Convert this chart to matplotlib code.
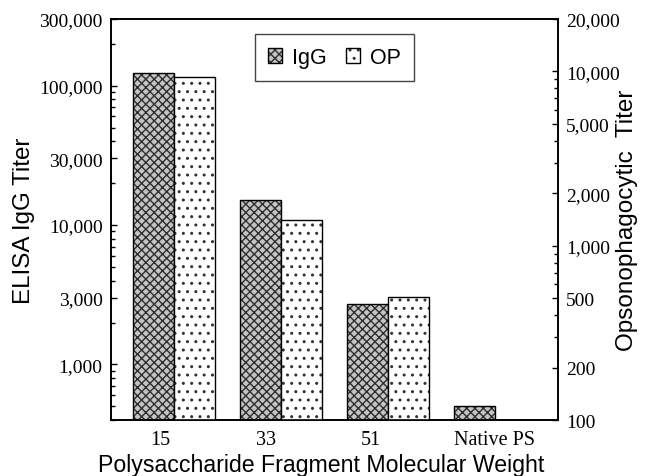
"""Antibody titers by polysaccharide fragment size (ELISA IgG vs opsonophagocytic)."""

import matplotlib

matplotlib.use("Agg")
import matplotlib.pyplot as plt
import numpy as np
from matplotlib.legend_handler import HandlerTuple
from matplotlib.ticker import FixedLocator, FuncFormatter, LogLocator, NullFormatter

groups = ["15", "33", "51", "Native PS"]
igg_titer = [123000, 15000, 2700, 500]
op_titer = [9300, 1400, 505, np.nan]

left_ticks = [1000, 3000, 10000, 30000, 100000, 300000]
right_ticks = [100, 200, 500, 1000, 2000, 5000, 10000, 20000]

SERIF = "Liberation Serif"
SANS = "Liberation Sans"


def comma(v, _pos=None):
    return f"{v:,.0f}"


def main() -> None:
    plt.rcParams["hatch.linewidth"] = 1.0
    fig = plt.figure(figsize=(6.48, 4.77), dpi=100)
    ax = fig.add_axes([0.1713, 0.1174, 0.6898, 0.8407])
    ax2 = ax.twinx()

    x = np.arange(len(groups))
    width = 0.38

    # hatch colour follows edgecolor, so fill and outline are separate bars
    igg = ax.bar(x - width / 2, igg_titer, width, color="#c4c4c4",
                 edgecolor="#2e2e2e", hatch="xxxx", linewidth=0)
    igg_edge = ax.bar(x - width / 2, igg_titer, width, fill=False,
                      edgecolor="black", linewidth=1.0)
    op = ax2.bar(x + width / 2, op_titer, width, color="white",
                 edgecolor="#333333", hatch="..", linewidth=0)
    op_edge = ax2.bar(x + width / 2, op_titer, width, fill=False,
                      edgecolor="black", linewidth=1.0)

    ax.set_yscale("log")
    ax2.set_yscale("log")
    ax.set_ylim(400, 300000)
    ax2.set_ylim(100, 20000)
    ax.set_xlim(-0.59, 3.59)

    for a, ticks in ((ax, left_ticks), (ax2, right_ticks)):
        a.yaxis.set_major_locator(FixedLocator(ticks))
        a.yaxis.set_major_formatter(FuncFormatter(comma))
        a.yaxis.set_minor_locator(LogLocator(subs=np.arange(2, 10), numticks=20))
        a.yaxis.set_minor_formatter(NullFormatter())
        a.tick_params(axis="y", which="major", direction="in", length=4.5,
                      width=1.0, pad=6, labelsize=14)
        a.tick_params(axis="y", which="minor", direction="in", length=3,
                      width=1.0)
        for lbl in a.get_yticklabels():
            lbl.set_fontfamily(SERIF)
        for sp in a.spines.values():
            sp.set_linewidth(1.2)

    # category labels sit a little left of the group centres
    label_shift = [-0.13, -0.14, -0.16, 0.0]
    ax.set_xticks(x + np.array(label_shift))
    ax.set_xticklabels(groups, fontfamily=SERIF, fontsize=14.5)
    ax.tick_params(axis="x", length=0, pad=7)

    ax.set_ylabel("ELISA IgG Titer", fontfamily=SANS, fontsize=17.4, labelpad=3)
    ax2.set_ylabel("Opsonophagocytic  Titer", fontfamily=SANS, fontsize=17.5)
    ax2.yaxis.set_label_coords(1.13, 0.5)
    ax.set_xlabel("Polysaccharide Fragment Molecular Weight", fontfamily=SANS,
                  fontsize=16.7)
    ax.xaxis.set_label_coords(0.47, -0.083)

    leg = ax2.legend([(igg, igg_edge), (op, op_edge)], ["IgG", "OP"],
                     handler_map={tuple: HandlerTuple(ndivide=1, pad=0)},
                     loc="upper center", bbox_to_anchor=(0.5, 0.963),
                     borderaxespad=0, ncol=2, fancybox=False,
                     prop={"family": SANS, "size": 15.5}, handlelength=0.65,
                     handleheight=0.7, handletextpad=0.45, columnspacing=0.9,
                     borderpad=0.6, framealpha=1)
    leg.get_frame().set_edgecolor("#444444")
    leg.get_frame().set_linewidth(1.0)

    fig.savefig("out.png", dpi=100)
    plt.close(fig)


if __name__ == "__main__":
    main()
